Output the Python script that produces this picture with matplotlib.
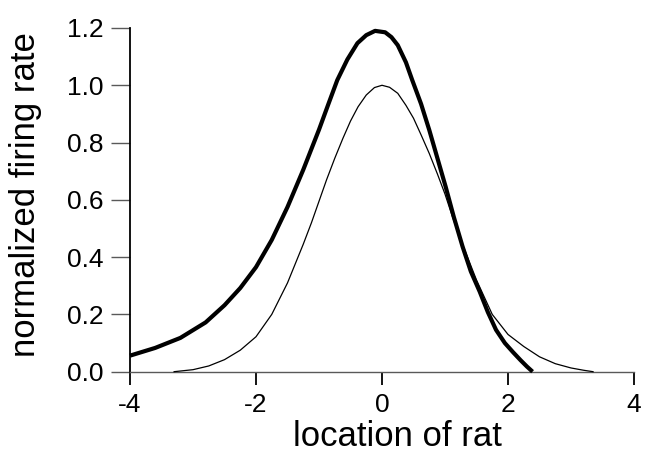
# Curvas de taxa de disparo normalizada vs. posicao do rato.

import matplotlib
matplotlib.use("Agg")
import matplotlib.pyplot as plt


# Dados -------------------------------------------------------------------------
# curva grossa
x_grossa = [-4.0, -3.6, -3.2, -2.8, -2.5, -2.25, -2.0, -1.75, -1.5, -1.25,
            -1.0, -0.85, -0.71, -0.55, -0.39, -0.25, -0.11, 0.05, 0.15, 0.25,
            0.38, 0.48, 0.62, 0.75, 0.88, 1.01, 1.14, 1.28, 1.41, 1.55, 1.68,
            1.81, 1.95, 2.08, 2.2, 2.3, 2.39]
y_grossa = [0.056, 0.083, 0.118, 0.172, 0.232, 0.292, 0.365, 0.46, 0.575,
            0.705, 0.845, 0.935, 1.018, 1.09, 1.147, 1.175, 1.19, 1.185, 1.168,
            1.14, 1.08, 1.018, 0.935, 0.844, 0.745, 0.646, 0.54, 0.436, 0.35,
            0.28, 0.208, 0.146, 0.1, 0.068, 0.04, 0.018, 0.0]

# curva fina
x_fina = [-3.3, -3.0, -2.75, -2.5, -2.25, -2.0, -1.75, -1.5, -1.25, -1.12, -1.0,
          -0.88, -0.75, -0.62, -0.5, -0.38, -0.25, -0.12, 0.0, 0.12, 0.25,
          0.38, 0.5, 0.62, 0.75, 0.88, 1.0, 1.12, 1.25, 1.5, 1.75, 2.0, 2.25,
          2.5, 2.75, 3.0, 3.2, 3.35]
y_fina = [0.0, 0.007, 0.02, 0.042, 0.075, 0.122, 0.2, 0.31, 0.445, 0.52, 0.595,
          0.67, 0.745, 0.815, 0.875, 0.925, 0.966, 0.992, 1.0, 0.993, 0.972,
          0.93, 0.885, 0.827, 0.762, 0.69, 0.62, 0.54, 0.46, 0.32, 0.2, 0.13,
          0.088, 0.052, 0.028, 0.013, 0.005, 0.0]

xticks = [-4, -2, 0, 2, 4]
yticks = [0.0, 0.2, 0.4, 0.6, 0.8, 1.0, 1.2]
ytick_labels = ["0.0", "0.2", "0.4", "0.6", "0.8", "1.0", "1.2"]

#===============================================================================
plt.rcParams["font.family"] = ["Liberation Sans", "DejaVu Sans"]
plt.rcParams["axes.unicode_minus"] = False

fig = plt.figure(figsize=(6.49, 4.53), dpi=100)
ax = fig.add_axes([0.2003, 0.1795, 0.7766, 0.7587])

ax.plot(x_fina, y_fina, color="black", lw=0.9, clip_on=False, zorder=3)
ax.plot(x_grossa, y_grossa, color="black", lw=3.0, clip_on=False, zorder=4,
        solid_capstyle="butt", solid_joinstyle="round")

ax.set_xlim(-4, 4)
ax.set_ylim(0, 1.2)

# Eixos: so o esquerdo e o de baixo.
ax.spines["top"].set_visible(False)
ax.spines["right"].set_visible(False)
ax.spines["left"].set_linewidth(1.3)
ax.spines["bottom"].set_linewidth(1.0)
ax.spines["bottom"].set_color("0.35")

ax.set_xticks(xticks)
ax.set_yticks(yticks)
ax.set_yticklabels(ytick_labels)
ax.tick_params(axis="y", direction="out", length=14, width=1.0,
               color="0.35", labelsize=19, pad=5)
ax.tick_params(axis="x", direction="out", length=9, width=1.3,
               color="black", labelsize=19, pad=6)

ax.set_xlabel("location of rat", fontsize=25)
ax.set_ylabel("normalized firing rate", fontsize=25)
ax.xaxis.set_label_coords(0.53, -0.14)
ax.yaxis.set_label_coords(-0.175, 0.514)

fig.savefig("out.png", dpi=100)
